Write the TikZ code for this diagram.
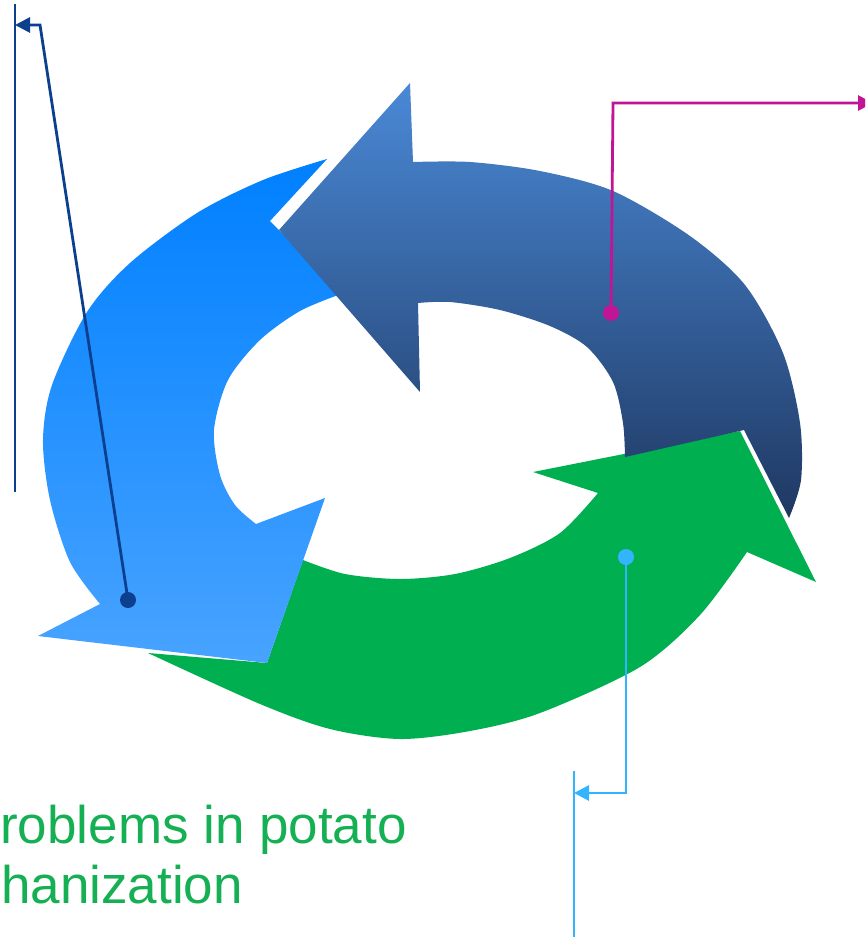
\documentclass[tikz,border=0pt]{standalone}
\usepackage{fontspec}
\setmainfont{Liberation Sans}
\usetikzlibrary{arrows.meta}
\definecolor{cycgreen}{RGB}{0,175,80}
\definecolor{captgreen}{RGB}{22,176,84}
\definecolor{lightblueTop}{RGB}{0,128,255}
\definecolor{lightblueBot}{RGB}{72,163,255}
\definecolor{darkblueTop}{RGB}{74,137,214}
\definecolor{darkblueBot}{RGB}{31,56,98}
\definecolor{calnavy}{RGB}{12,64,142}
\definecolor{calmag}{RGB}{192,22,150}
\definecolor{calsky}{RGB}{51,180,255}
\tikzset{
  greenband/.style={fill=cycgreen},
  blueband/.style={top color=lightblueTop, bottom color=lightblueBot},
  darkband/.style={top color=darkblueTop, bottom color=darkblueBot},
  leader/.style={line width=2.8pt, line join=miter},
  leadtip/.style={-{Triangle[length=15pt,width=15pt]}},
  pin/.style={circle, inner sep=0pt, minimum size=16pt},
  bar/.style={line width=2.8pt},
  caption/.style={font=\fontsize{53}{60}\selectfont, text=captgreen, inner sep=0pt, anchor=base west},
}
\begin{document}
\begin{tikzpicture}[x=1pt,y=-1pt]
  \clip (0,0) rectangle (865,937);
  \fill[white] (0,0) rectangle (865,937);
  \fill[greenband] (148,653) -- (267,663)
    -- plot[smooth, tension=0.5] coordinates {(303,560) (345,574) (400,579) (455,574) (510,558) (560,533) (598,493)}
    -- (533,472) -- (740,431) -- (816,582)
    -- plot[smooth, tension=0.5] coordinates {(747,552) (700,615) (640,667) (540,713) (470,731) (400,739) (330,729) (260,704) (148,653)}
    -- cycle;
  \shade[blueband] (327,159) -- (270,221)
    -- plot[smooth, tension=0.5] coordinates {(341,294) (300,311) (260,340) (228,380) (214,430) (220,475) (235,505) (256,524)}
    -- (325,498) -- (267,663) -- (38,636)
    -- plot[smooth, tension=0.5] coordinates {(100,604) (70,562) (50,500) (43,440) (52,385) (87,312) (130,263) (197,213) (263,180) (327,159)}
    -- cycle;
  \shade[darkband] (279,230) -- (410,83) -- (413,162)
    -- plot[smooth, tension=0.5] coordinates {(413,162) (470,162) (540,171) (613,191) (690,236) (745,285) (783,353) (800,423) (801,480) (789,518)}
    -- (744,430)
    -- plot[smooth, tension=0.5] coordinates {(625,457) (623,423) (613,382) (587,347) (550,326) (500,310) (450,302) (418,303)}
    -- (420,392) -- cycle;
  \node[caption] (captionA) at (0,843) {roblems in potato};
  \node[caption] (captionB) at (1,903) {hanization};
  \coordinate (navytop) at (15,4);
  \coordinate (navybot) at (15,492);
  \coordinate (navybend) at (40,25);
  \coordinate (navyend) at (15,25);
  \node[pin, fill=calnavy] (pinnavy) at (128,600) {};
  \draw[bar, calnavy] (navytop) -- (navybot);
  \draw[leader, leadtip, calnavy] (pinnavy.center) -- (navybend) -- (navyend);
  \coordinate (magbend) at (613,103);
  \coordinate (magend) at (873,103);
  \node[pin, fill=calmag] (pinmag) at (611,313) {};
  \draw[leader, leadtip, calmag] (pinmag.center) -- (magbend) -- (magend);
  \coordinate (skytop) at (574,771);
  \coordinate (skybot) at (574,937);
  \coordinate (skybend) at (626,793);
  \coordinate (skyend) at (574,793);
  \node[pin, fill=calsky] (pinsky) at (626,557) {};
  \draw[bar, calsky] (skytop) -- (skybot);
  \draw[leader, leadtip, calsky] (pinsky.center) -- (skybend) -- (skyend);
\end{tikzpicture}
\end{document}
